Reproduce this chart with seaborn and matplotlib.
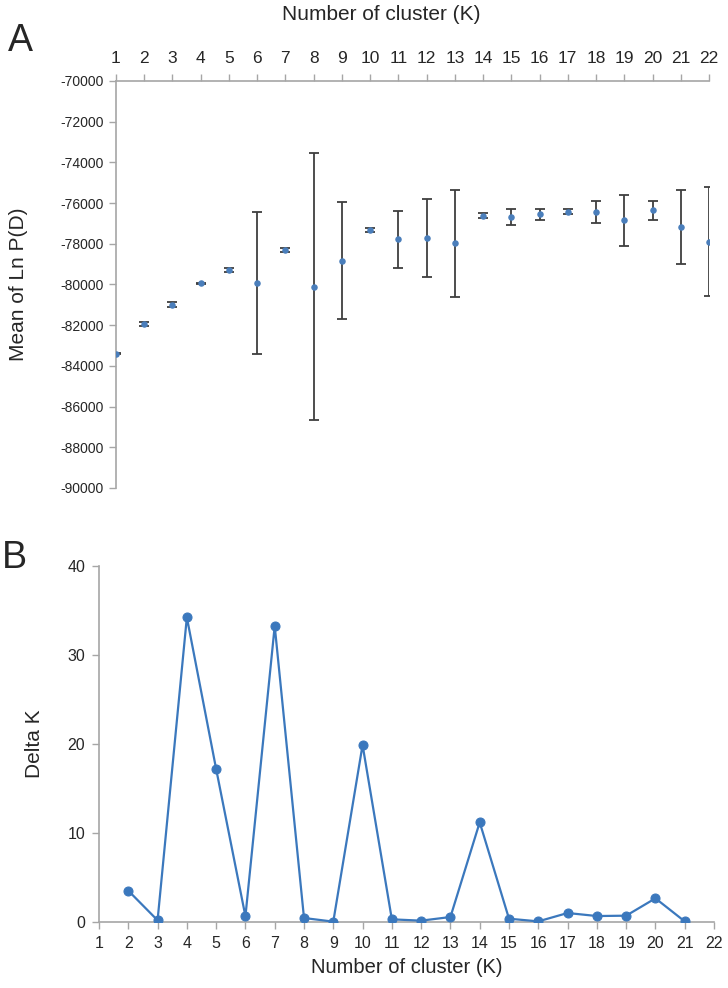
import matplotlib
matplotlib.use("Agg")
import matplotlib.pyplot as plt
import seaborn as sns
import pandas as pd
import numpy as np

# ---- data ----
k_values = list(range(1, 23))
mean_lnp = [-83400, -81940, -80990, -79950, -79290, -79930, -78300, -80100,
            -78830, -77320, -77780, -77730, -77980, -76630, -76680, -76550,
            -76420, -76440, -76850, -76360, -77180, -77900]
sd_lnp = [30, 110, 130, 30, 80, 3470, 80, 6580, 2870, 80, 1400, 1920,
          2640, 120, 400, 260, 120, 520, 1250, 480, 1800, 2680]

k_delta = list(range(2, 22))
delta_k = [3.52, 0.19, 34.23, 17.19, 0.64, 33.26, 0.45, 0.04, 19.89, 0.30,
           0.15, 0.56, 11.2, 0.37, 0.07, 1.01, 0.67, 0.71, 2.66, 0.07]

y_ticks_a = list(range(-90000, -69999, 2000))
y_ticks_b = [0, 10, 20, 30, 40]

sns.set_theme(style="white")
plt.rcParams['font.family'] = ['Liberation Sans', 'DejaVu Sans']

W, H = 728, 988
fig = plt.figure(figsize=(W / 100, H / 100), dpi=100)

def fx(px):
    return px / W

def fy(py):
    return 1 - py / H

spine_col = "#A6A6A6"
blue = "#4A7EBB"
line_blue = "#3B78BD"

# ---- Panel A ----
axA = fig.add_axes([fx(116), fy(488), fx(709) - fx(116), fy(81) - fy(488)])
dfA = pd.DataFrame({"K": k_values, "mean": mean_lnp, "sd": sd_lnp})
axA.errorbar(dfA["K"], dfA["mean"], yerr=dfA["sd"], fmt="none",
             ecolor="#3F3F3F", elinewidth=1.3, capsize=3.5, capthick=1.3, zorder=2)
sns.scatterplot(data=dfA, x="K", y="mean", ax=axA, color=blue, s=22,
                marker="o", edgecolor=blue, linewidth=0, zorder=3, legend=False)
axA.set_xlim(1, 22)
axA.set_ylim(-90000, -70000)
axA.set_xticks(k_values)
axA.set_xticklabels([str(k) for k in k_values], fontsize=12.5)
axA.set_yticks(y_ticks_a)
axA.set_yticklabels([str(v) for v in y_ticks_a], fontsize=10)
axA.xaxis.tick_top()
axA.xaxis.set_label_position("top")
axA.set_xlabel("")
axA.set_ylabel("Mean of Ln P(D)", fontsize=15)
axA.yaxis.set_label_coords(-0.148, 0.5)
for s in ["bottom", "right"]:
    axA.spines[s].set_visible(False)
for s in ["top", "left"]:
    axA.spines[s].set_color(spine_col)
    axA.spines[s].set_linewidth(1.2)
axA.tick_params(axis="x", which="major", direction="out", length=5, width=1,
                color=spine_col, pad=6, top=True, bottom=False)
axA.tick_params(axis="y", which="major", direction="out", length=5, width=1,
                color=spine_col, pad=4, left=True)
axA.grid(False)

fig.text(fx(381), fy(14), "Number of cluster (K)", fontsize=15, ha="center", va="center")
fig.text(fx(8), fy(41), "A", fontsize=27, ha="left", va="center")

# ---- Panel B ----
axB = fig.add_axes([fx(99), fy(922), fx(714) - fx(99), fy(566) - fy(922)])
dfB = pd.DataFrame({"K": k_delta, "delta": delta_k})
sns.lineplot(data=dfB, x="K", y="delta", ax=axB, color=line_blue, linewidth=1.6,
             marker="o", markersize=6.5, markeredgecolor=line_blue, zorder=3)
axB.set_xlim(1, 22)
axB.set_ylim(0, 40)
axB.set_xticks(k_values)
axB.set_xticklabels([str(k) for k in k_values], fontsize=11.5)
axB.set_yticks(y_ticks_b)
axB.set_yticklabels([str(v) for v in y_ticks_b], fontsize=11.5)
axB.set_xlabel("Number of cluster (K)", fontsize=14.5)
axB.xaxis.set_label_coords(0.5, -0.10)
axB.set_ylabel("Delta K", fontsize=15)
axB.yaxis.set_label_coords(-0.089, 0.5)
for s in ["top", "right"]:
    axB.spines[s].set_visible(False)
for s in ["bottom", "left"]:
    axB.spines[s].set_color(spine_col)
    axB.spines[s].set_linewidth(1.2)
axB.tick_params(axis="x", direction="out", length=5, width=1, color=spine_col,
                pad=5, bottom=True)
axB.tick_params(axis="y", direction="out", length=5, width=1, color=spine_col,
                pad=5, left=True)
axB.grid(False)

fig.text(fx(2), fy(558), "B", fontsize=27, ha="left", va="center")

fig.savefig("out.png", dpi=100)
